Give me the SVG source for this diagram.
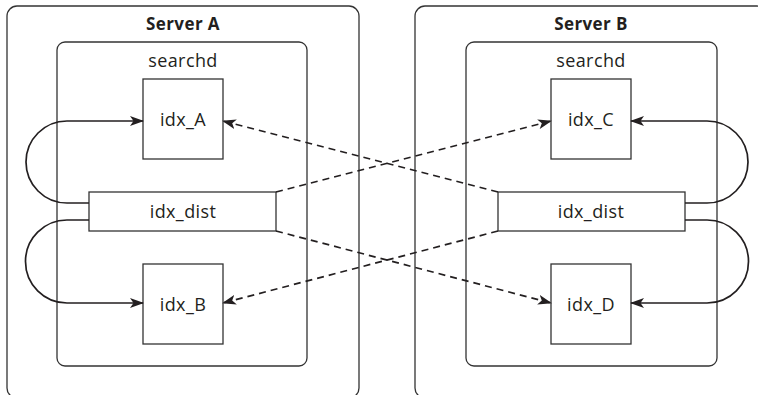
<svg xmlns="http://www.w3.org/2000/svg" width="758" height="395" viewBox="0 0 758 395">
  <style>
    .server { fill: none; stroke: #333; stroke-width: 1.3; }
    .proc { fill: none; stroke: #333; stroke-width: 1.3; }
    .box { fill: #fff; stroke: #333; stroke-width: 1.3; }
    .title { font-family: "Open Sans", "Liberation Sans", sans-serif; font-size: 17px; font-weight: bold; fill: #231f20; text-anchor: middle; letter-spacing: 0.4px; }
    .label { font-family: "Open Sans", "Liberation Sans", sans-serif; font-size: 18px; fill: #231f20; text-anchor: middle; letter-spacing: 0.4px; }
    .local { fill: none; stroke: #231f20; stroke-width: 1.7; marker-end: url(#arrow); }
    .remote { fill: none; stroke: #231f20; stroke-width: 1.7; stroke-dasharray: 7 5; marker-end: url(#arrow); }
  </style>
  <defs>
    <marker id="arrow" viewBox="0 0 14 10" refX="13" refY="5" markerWidth="14" markerHeight="10" markerUnits="userSpaceOnUse" orient="auto">
      <path d="M0,0 L14,5 L0,10 L3.5,5 Z" fill="#231f20"/>
    </marker>
  </defs>

  <!-- Server A -->
  <g id="server-a">
    <rect class="server" x="7" y="6" width="352" height="392" rx="10"/>
    <text class="title" x="183" y="30">Server A</text>
  </g>
  <g id="searchd-a">
    <rect class="proc" x="57" y="42" width="250" height="324" rx="8"/>
    <text class="label" x="183" y="67">searchd</text>
  </g>
  <g id="idx-a">
    <rect class="box" x="143" y="79" width="80" height="80"/>
    <text class="label" x="183" y="126">idx_A</text>
  </g>
  <g id="idx-dist-a">
    <rect class="box" x="89" y="192" width="187" height="39"/>
    <text class="label" x="183" y="218">idx_dist</text>
  </g>
  <g id="idx-b">
    <rect class="box" x="143" y="264" width="80" height="80"/>
    <text class="label" x="183" y="311">idx_B</text>
  </g>

  <!-- Server B -->
  <g id="server-b">
    <rect class="server" x="415" y="6" width="352" height="392" rx="10"/>
    <text class="title" x="591" y="30">Server B</text>
  </g>
  <g id="searchd-b">
    <rect class="proc" x="466" y="42" width="251" height="324" rx="8"/>
    <text class="label" x="591" y="67">searchd</text>
  </g>
  <g id="idx-c">
    <rect class="box" x="551" y="79" width="80" height="80"/>
    <text class="label" x="591" y="126">idx_C</text>
  </g>
  <g id="idx-dist-b">
    <rect class="box" x="498" y="192" width="187" height="39"/>
    <text class="label" x="591" y="218">idx_dist</text>
  </g>
  <g id="idx-d">
    <rect class="box" x="551" y="264" width="80" height="80"/>
    <text class="label" x="591" y="311">idx_D</text>
  </g>

  <!-- Connectors -->
  <g id="connectors">
    <!-- local queries on Server A -->
    <path class="local" d="M89,203 H67 A41,41 0 0 1 67,121 H143"/>
    <path class="local" d="M89,220 H67 A41.5,41.5 0 0 0 67,303 H143"/>
    <!-- local queries on Server B -->
    <path class="local" d="M685,203 H707 A41,41 0 0 0 707,121 H631"/>
    <path class="local" d="M685,220 H707 A41.5,41.5 0 0 1 707,303 H631"/>
    <!-- remote queries -->
    <path class="remote" d="M276,192 L551,121"/>
    <path class="remote" d="M276,231 L551,303"/>
    <path class="remote" d="M498,192 L223,121"/>
    <path class="remote" d="M498,231 L223,303"/>
  </g>
</svg>
